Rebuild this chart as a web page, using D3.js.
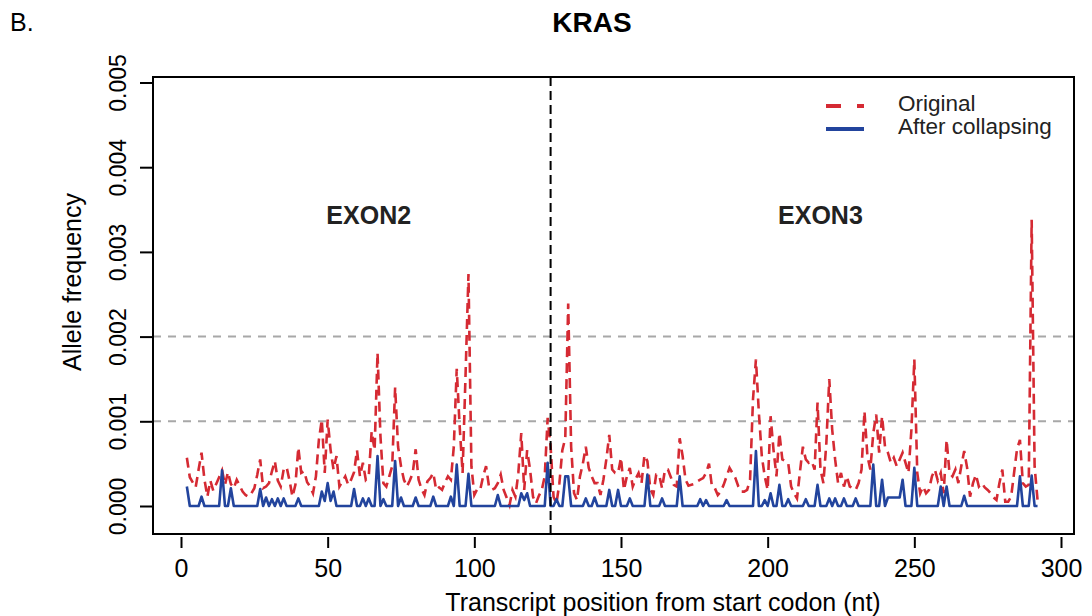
<!DOCTYPE html>
<html>
<head>
<meta charset="utf-8">
<script src="https://cdn.jsdelivr.net/npm/d3@7"></script>
<style>
  body { margin: 0; background: #fff; }
  text { font-family: "Liberation Sans", Arial, sans-serif; }
</style>
</head>
<body>
<div id="chart"></div>
<script>
// transcript positions (nt), first and last
var firstPos = 2;
var lastPos = 292;

// allele frequency, in units of 1e-4, one value per nt from firstPos
var originalFreq = [
  5.7, 3.4, 2.8, 2.2, 4.3, 6.3, 3.1, 1.1, 3.0, 1.8,
  2.6, 3.4, 4.2, 2.5, 4.0, 2.6, 2.1, 3.1, 2.4, 1.7,
  1.3, 1.1, 1.5, 2.1, 3.7, 5.5, 2.1, 2.3, 2.7, 4.1,
  5.3, 3.0, 2.3, 4.3, 4.6, 3.0, 1.1, 2.5, 6.9, 3.9,
  4.1, 2.8, 2.3, 1.5, 3.5, 7.8, 10.2, 3.9, 10.2, 6.6,
  4.3, 5.9, 2.3, 2.9, 3.5, 2.5, 3.1, 4.0, 6.6, 3.5,
  5.1, 3.1, 3.5, 8.8, 6.6, 18.1, 8.2, 2.7, 2.3, 3.5,
  4.7, 14.0, 7.0, 4.7, 3.1, 2.3, 3.0, 3.9, 6.7, 3.1,
  2.0, 1.3, 2.9, 3.3, 3.9, 1.9, 2.2, 1.9, 2.8, 3.5,
  3.1, 7.0, 16.2, 9.4, 3.9, 15.4, 27.4, 4.7, 1.3, 2.0,
  1.9, 3.5, 4.7, 2.3, 1.9, 2.1, 2.7, 3.7, 1.9, 1.0,
  0.1, 1.9, 1.1, 3.9, 8.6, 1.9, 6.6, 4.3, 1.1, 0.3,
  1.2, 1.9, 3.5, 10.4, 7.0, 1.1, 0.3, 2.7, 6.6, 8.0,
  23.9, 7.0, 1.5, 0.7, 3.5, 5.0, 7.0, 4.5, 3.5, 2.7,
  2.7, 1.3, 3.1, 5.5, 8.4, 4.3, 3.9, 3.9, 5.7, 1.9,
  3.5, 4.5, 2.3, 3.2, 3.9, 2.7, 6.0, 5.3, 2.0, 1.3,
  3.7, 3.7, 2.1, 4.3, 4.3, 3.4, 2.5, 2.3, 8.0, 5.9,
  3.1, 2.4, 2.5, 2.6, 2.9, 3.1, 3.3, 3.9, 5.0, 2.3,
  2.1, 1.3, 1.7, 2.5, 3.5, 4.5, 3.9, 3.3, 2.3, 1.7,
  1.7, 1.9, 3.1, 12.6, 17.3, 11.0, 5.9, 3.5, 1.9, 10.6,
  6.6, 3.5, 8.6, 5.5, 5.3, 5.1, 2.3, 1.5, 0.9, 4.0,
  7.0, 5.5, 5.1, 5.3, 4.3, 12.2, 4.3, 2.7, 7.4, 15.0,
  9.0, 5.5, 2.7, 3.9, 2.3, 3.5, 2.3, 2.1, 1.9, 2.7,
  4.3, 11.2, 5.9, 4.3, 8.6, 10.8, 6.3, 10.6, 7.0, 6.3,
  5.1, 5.7, 4.7, 5.5, 6.3, 5.1, 3.9, 9.0, 17.3, 3.9,
  1.5, 2.3, 1.5, 1.9, 3.5, 4.3, 3.0, 3.9, 1.5, 7.8,
  3.9, 3.5, 4.3, 2.7, 4.7, 6.5, 4.5, 1.1, 2.7, 3.7,
  2.3, 2.7, 2.2, 1.9, 1.5, 1.0, 0.7, 2.7, 4.3, 0.5,
  0.5, 1.1, 3.9, 6.7, 7.8, 2.7, 2.3, 2.5, 33.8, 4.7,
  0.7
];

var collapsedFreq = [
  2.3, 0, 0, 0, 0, 1.1, 0, 0, 0, 0,
  0, 0, 4.2, 0, 0, 2.1, 0, 0, 0, 0,
  0, 0, 0, 0, 0, 2.0, 0, 1.0, 0, 0.8,
  0, 0.9, 0, 0.9, 0, 0, 0, 0, 0.9, 0,
  0, 0, 0, 0, 0, 0, 1.7, 0.6, 2.7, 0.6,
  1.7, 0, 0, 0, 0, 0, 0, 2.0, 0, 0,
  0.9, 0, 0.9, 0, 0, 5.9, 0, 0.8, 0, 0,
  0, 5.3, 0, 1.0, 0, 0, 0, 0, 1.0, 0,
  0, 0, 0, 0, 1.1, 0, 0, 0, 0, 0,
  1.1, 0, 4.9, 0, 0, 0, 3.8, 0, 0, 0,
  0, 0, 0, 0, 0, 0, 1.3, 0, 0, 0,
  0, 0, 0, 0, 1.5, 0.7, 1.5, 0, 0, 0,
  0, 0, 0, 5.1, 0, 0, 0.8, 0, 0, 3.5,
  3.5, 0, 0, 0, 0, 0, 0.9, 0, 0, 1.0,
  0, 0, 0, 0, 1.9, 0, 0, 1.9, 0, 0,
  0, 0.9, 0, 0, 0, 0, 0, 3.7, 0, 0,
  0, 0, 0.9, 0, 0, 0, 0, 0, 3.5, 0,
  0, 0, 0, 0, 0, 0.8, 0, 0.7, 0, 0,
  0, 0, 0, 0, 0.7, 0, 0, 0, 0, 0,
  0, 0, 0, 0, 6.5, 0, 0, 0.7, 0, 1.5,
  0, 0, 2.5, 0, 0, 0.8, 0, 0, 0, 0,
  0, 0.8, 0, 0, 0, 2.5, 0, 0, 0, 0.9,
  0, 0.9, 0, 0, 0.9, 0, 0, 0, 0.9, 0,
  0, 0, 0, 0, 4.9, 0, 0, 3.1, 0, 1.0,
  1.0, 1.0, 1.0, 1.0, 3.1, 0, 0, 0, 4.5, 0,
  0, 0, 0, 0, 0, 0, 0, 2.3, 0, 2.3,
  0, 0, 0, 0, 0, 1.2, 0, 0, 0, 0,
  0, 0, 0, 0, 0, 0, 0, 0, 0, 0,
  0, 0, 0, 0, 3.5, 0, 0, 0, 3.6, 0,
  0
];

var xTicks = [0, 50, 100, 150, 200, 250, 300];
var yTicks = [0, 0.001, 0.002, 0.003, 0.004, 0.005];
var refLines = [0.001, 0.002];
var exonBoundary = 126;
var exonLabels = [{ name: "EXON2", pos: 64 }, { name: "EXON3", pos: 218 }];
var seriesNames = ["Original", "After collapsing"];

var red = "#d52a33";
var blue = "#22449d";

function drawChart() {
  var width = 1092, height = 616;
  var box = { left: 153, right: 1074, top: 77, bottom: 534 };

  var svg = d3.select("#chart")
    .append("svg")
    .attr("width", width)
    .attr("height", height);

  var x = d3.scaleLinear().domain([0, 300]).range([181, 1061]);
  var y = d3.scaleLinear().domain([0, 0.005]).range([506, 82.5]);

  var original = originalFreq.map(function(v, i) { return { pos: firstPos + i, f: v / 1e4 }; });
  var collapsed = collapsedFreq.map(function(v, i) { return { pos: firstPos + i, f: v / 1e4 }; });

  // grey reference lines
  svg.selectAll(".ref")
    .data(refLines)
    .enter()
    .append("line")
    .attr("class", "ref")
    .attr("x1", box.left)
    .attr("x2", box.right)
    .attr("y1", function(d) { return y(d); })
    .attr("y2", function(d) { return y(d); })
    .attr("stroke", "#a8a8a8")
    .attr("stroke-width", 2)
    .attr("stroke-dasharray", "8,7");

  var line = d3.line()
    .x(function(d) { return x(d.pos); })
    .y(function(d) { return y(d.f); });

  svg.append("path")
    .datum(original)
    .attr("d", line)
    .attr("fill", "none")
    .attr("stroke", red)
    .attr("stroke-width", 2.6)
    .attr("stroke-dasharray", "10,6");

  svg.append("path")
    .datum(collapsed)
    .attr("d", line)
    .attr("fill", "none")
    .attr("stroke", blue)
    .attr("stroke-width", 2.6)
    .attr("stroke-linejoin", "round");

  // exon boundary
  svg.append("line")
    .attr("x1", x(exonBoundary))
    .attr("x2", x(exonBoundary))
    .attr("y1", box.top)
    .attr("y2", box.bottom)
    .attr("stroke", "#000")
    .attr("stroke-width", 2)
    .attr("stroke-dasharray", "9,5");

  svg.selectAll(".exon")
    .data(exonLabels)
    .enter()
    .append("text")
    .attr("class", "exon")
    .attr("x", function(d) { return x(d.pos); })
    .attr("y", 224)
    .attr("text-anchor", "middle")
    .attr("font-size", "25px")
    .attr("font-weight", "bold")
    .attr("fill", "#222")
    .text(function(d) { return d.name; });

  // box
  svg.append("rect")
    .attr("x", box.left)
    .attr("y", box.top)
    .attr("width", box.right - box.left)
    .attr("height", box.bottom - box.top)
    .attr("fill", "none")
    .attr("stroke", "#000")
    .attr("stroke-width", 2);

  // axes
  var xAxis = svg.append("g")
    .attr("transform", "translate(0," + 537 + ")")
    .call(d3.axisBottom(x).tickValues(xTicks).tickSize(11).tickPadding(11).tickFormat(d3.format("d")));
  xAxis.select(".domain").remove();
  xAxis.selectAll("line").attr("stroke-width", 2);
  xAxis.selectAll("text").attr("font-size", "25px").attr("font-family", "Liberation Sans, Arial, sans-serif").attr("fill", "#000");

  var yAxis = svg.append("g")
    .attr("transform", "translate(" + box.left + ",0)")
    .call(d3.axisLeft(y).tickValues(yTicks).tickSize(13).tickFormat(d3.format(".3f")));
  yAxis.select(".domain").remove();
  yAxis.selectAll("line").attr("stroke-width", 2);
  yAxis.selectAll("text")
    .attr("x", 0)
    .attr("y", -27)
    .attr("dy", null)
    .attr("transform", "rotate(-90)")
    .attr("text-anchor", "middle")
    .attr("font-size", "23px")
    .attr("font-family", "Liberation Sans, Arial, sans-serif")
    .attr("fill", "#000");

  // axis titles
  svg.append("text")
    .attr("x", 663)
    .attr("y", 611)
    .attr("text-anchor", "middle")
    .attr("font-size", "25px")
    .text("Transcript position from start codon (nt)");

  svg.append("text")
    .attr("transform", "translate(81,282) rotate(-90)")
    .attr("text-anchor", "middle")
    .attr("font-size", "25px")
    .text("Allele frequency");

  // titles
  svg.append("text")
    .attr("x", 592)
    .attr("y", 32)
    .attr("text-anchor", "middle")
    .attr("font-size", "28px")
    .attr("font-weight", "bold")
    .text("KRAS");

  svg.append("text")
    .attr("x", 10)
    .attr("y", 31)
    .attr("font-size", "25px")
    .text("B.");

  // legend
  var legend = svg.append("g").attr("transform", "translate(826,0)");
  var legendRows = [
    { name: seriesNames[0], color: red, dash: "15,16", y: 106, ty: 111 },
    { name: seriesNames[1], color: blue, dash: null, y: 129, ty: 134 }
  ];
  legend.selectAll("line")
    .data(legendRows)
    .enter()
    .append("line")
    .attr("x1", 0)
    .attr("x2", 38)
    .attr("y1", function(d) { return d.y; })
    .attr("y2", function(d) { return d.y; })
    .attr("stroke", function(d) { return d.color; })
    .attr("stroke-width", 4)
    .attr("stroke-dasharray", function(d) { return d.dash; });
  legend.selectAll("text")
    .data(legendRows)
    .enter()
    .append("text")
    .attr("x", 72)
    .attr("y", function(d) { return d.ty; })
    .attr("font-size", "22.5px")
    .attr("fill", "#222")
    .text(function(d) { return d.name; });
}

drawChart();
</script>
</body>
</html>
